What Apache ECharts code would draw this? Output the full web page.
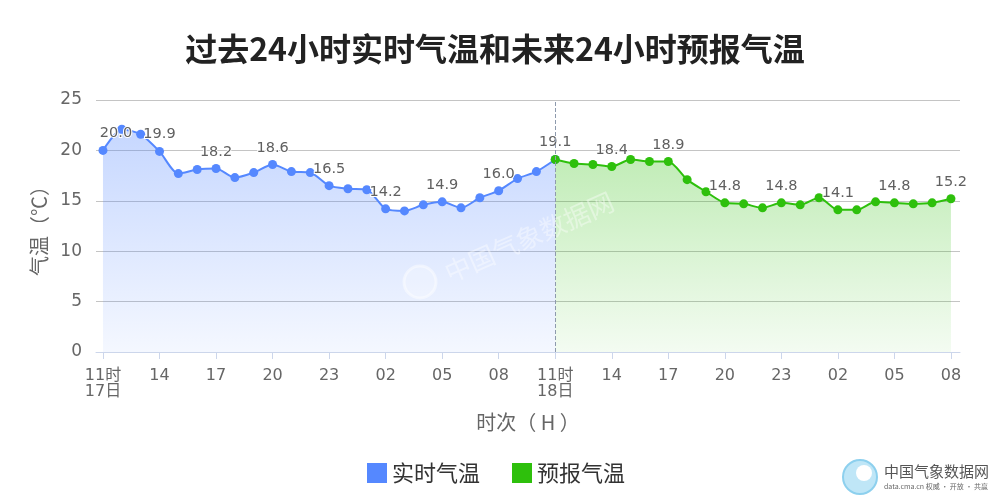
<!DOCTYPE html>
<html>
<head>
<meta charset="utf-8">
<script src="https://cdn.jsdelivr.net/npm/echarts@6/dist/echarts.min.js"></script>
<style>html,body{margin:0;padding:0;background:#fff}#c{width:1000px;height:500px}</style>
</head>
<body>
<div id="c"></div>
<script>
// hour labels for each point (index 0 = 11时17日)
var hours = ['11时\n17日','12','13','14','15','16','17','18','19','20','21','22','23','00','01','02','03','04','05','06','07','08','09','10',
             '11时\n18日','12','13','14','15','16','17','18','19','20','21','22','23','00','01','02','03','04','05','06','07','08'];
var tickIdx = [0,3,6,9,12,15,18,21,24,27,30,33,36,39,42,45];
var realTemp = [20.0,22.1,21.6,19.9,17.7,18.1,18.2,17.3,17.8,18.6,17.9,17.8,16.5,16.2,16.1,14.2,14.0,14.6,14.9,14.3,15.3,16.0,17.2,17.9,19.1];
var foreTemp = [19.1,18.7,18.6,18.4,19.1,18.9,18.9,17.1,15.9,14.8,14.7,14.3,14.8,14.6,15.3,14.1,14.1,14.9,14.8,14.7,14.8,15.2];
var foreStart = 24;
var yTicks = [0,5,10,15,20,25];

var blue = '#5588ff', green = '#2ec00c';
var numFont = "'DejaVu Sans', 'Noto Sans CJK SC', sans-serif";
var cjkFont = "'Noto Sans CJK SC', 'DejaVu Sans', sans-serif";

var realData = realTemp.map(function(v,i){
  var d = {value:[i,v]};
  if (i === 0) d.label = {offset:[13,0]};
  return d;
});
var foreData = foreTemp.map(function(v,i){ return {value:[foreStart+i,v]}; });

function lbl(skipLast){
  return {
    show:true, position:'top', distance:5,
    fontFamily:numFont, fontSize:14.5, color:'#606060',
    textBorderColor:'#fff', textBorderWidth:2,
    formatter:function(p){
      var i = p.value[0];
      if (skipLast && i === foreStart) return '';
      return (i % 3 === 0) ? p.value[1].toFixed(1) : '';
    }
  };
}

var chart = echarts.init(document.getElementById('c'));
chart.setOption({
  animation:false,
  backgroundColor:'#fff',
  title:{
    text:'过去24小时实时气温和未来24小时预报气温',
    left:490, top:28, textAlign:'center',
    textStyle:{fontFamily:cjkFont, fontSize:32, fontWeight:'bold', color:'#222'}
  },
  legend:{
    left:362, top:457, itemWidth:20, itemHeight:20, itemGap:32, itemTextGap:3,
    icon:'rect',
    textStyle:{fontFamily:cjkFont, fontSize:22, color:'#333'},
    data:['实时气温','预报气温']
  },
  grid:{left:96, right:40, top:100, bottom:148},
  xAxis:{
    type:'value', min:-0.37, max:45.48,
    name:'时次（ H ）', nameLocation:'middle', nameGap:60,
    nameTextStyle:{fontFamily:cjkFont, fontSize:20, color:'#666'},
    axisLine:{show:true, lineStyle:{color:'#ccd6eb', width:1}},
    axisTick:{show:true, length:7, lineStyle:{color:'#ccd6eb'}, customValues:tickIdx},
    splitLine:{show:false},
    axisLabel:{
      customValues:tickIdx, margin:16,
      fontFamily:numFont, fontSize:16, lineHeight:16, color:'#666',
      formatter:function(v){ return hours[Math.round(v)]; }
    }
  },
  yAxis:{
    type:'value', min:0, max:25, interval:5,
    name:'气温（℃）', nameLocation:'middle', nameGap:46, nameRotate:90,
    nameTextStyle:{fontFamily:cjkFont, fontSize:20, color:'#666'},
    axisLine:{show:false}, axisTick:{show:false},
    splitLine:{lineStyle:{color:'#c4c4c4', width:1}},
    axisLabel:{fontFamily:numFont, fontSize:17, color:'#666', margin:14,
      formatter:function(v){ return yTicks.indexOf(v) >= 0 ? String(v) : ''; }}
  },
  series:[
    {
      name:'实时气温', type:'line', data:realData, smooth:0.25,
      symbol:'circle', symbolSize:9,
      itemStyle:{color:blue}, lineStyle:{color:blue, width:2},
      areaStyle:{color:new echarts.graphic.LinearGradient(0,0,0,1,[
        {offset:0, color:'rgba(85,136,255,0.48)'},{offset:1, color:'rgba(85,136,255,0.09)'}])},
      label:lbl(true),
      markLine:{
        silent:true, symbol:'none', label:{show:false},
        lineStyle:{color:'#8e9aad', type:'dashed', width:1},
        data:[{xAxis:foreStart}]
      },
      z:3
    },
    {
      name:'预报气温', type:'line', data:foreData, smooth:0.25,
      symbol:'circle', symbolSize:9,
      itemStyle:{color:green}, lineStyle:{color:green, width:2},
      areaStyle:{color:new echarts.graphic.LinearGradient(0,0,0,1,[
        {offset:0, color:'rgba(46,192,12,0.42)'},{offset:1, color:'rgba(46,192,12,0.08)'}])},
      label:lbl(false),
      z:4
    }
  ],
  graphic:[
    {type:'circle', z:100, silent:true, shape:{cx:420, cy:282, r:16},
      style:{fill:'rgba(255,255,255,0.25)', stroke:'rgba(255,255,255,0.45)', lineWidth:3}},
    {type:'text', z:100, silent:true, x:446, y:274, rotation:24*Math.PI/180,
      style:{x:0, y:0, text:'中国气象数据网', font:"26px 'Noto Sans CJK SC'", fill:'rgba(255,255,255,0.4)', verticalAlign:'middle'}},
    {type:'circle', shape:{cx:860, cy:477, r:17}, style:{fill:'#bfe6f7', stroke:'#8dd0ee', lineWidth:2}, z:100},
    {type:'circle', shape:{cx:864, cy:473, r:8}, style:{fill:'#ffffff'}, z:101},
    {type:'text', style:{x:884, y:464, text:'中国气象数据网', font:"15px 'Noto Sans CJK SC'", fill:'#555'}, z:100},
    {type:'text', style:{x:884, y:483, text:'data.cma.cn 权威 · 开放 · 共赢', font:"7px 'Noto Sans CJK SC'", fill:'#666'}, z:100}
  ]
});
</script>
</body>
</html>
